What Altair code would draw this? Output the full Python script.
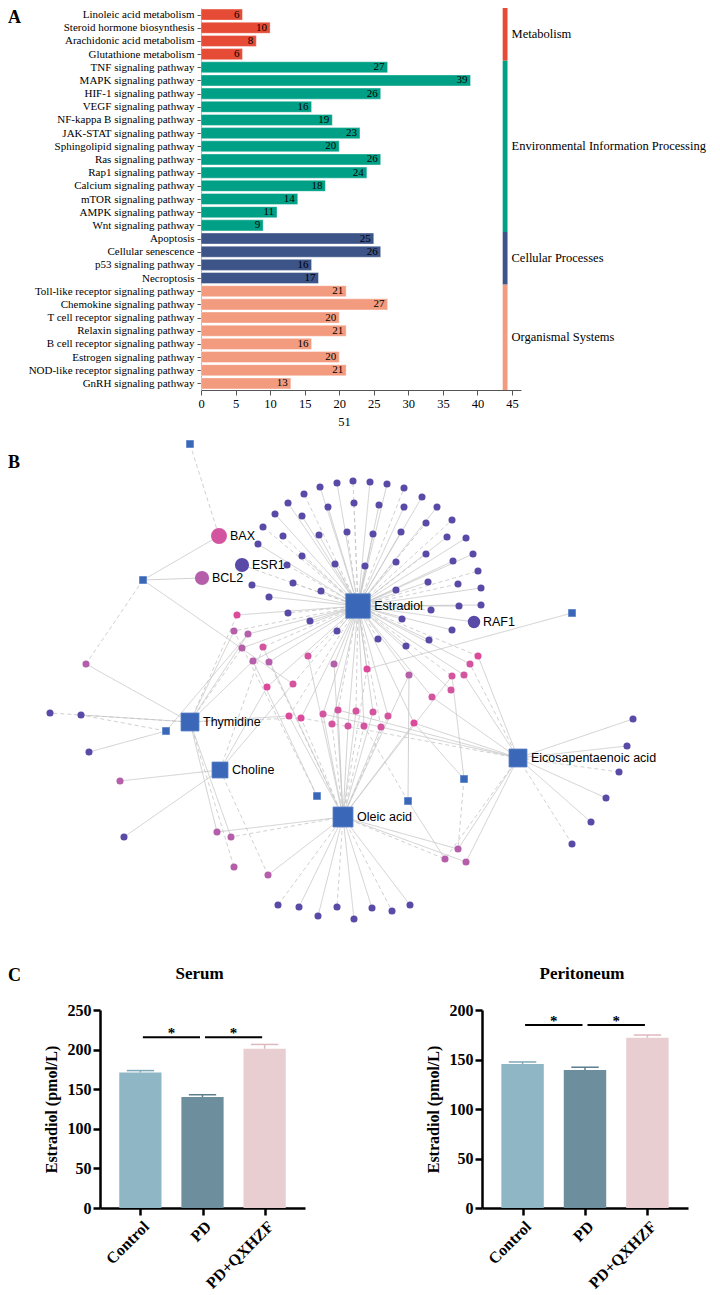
import json
import math
import altair as alt
import pandas as pd

# ---------------- Panel A: KEGG enrichment ----------------
pathways = [
    "Linoleic acid metabolism", "Steroid hormone biosynthesis", "Arachidonic acid metabolism",
    "Glutathione metabolism", "TNF signaling pathway", "MAPK signaling pathway",
    "HIF-1 signaling pathway", "VEGF signaling pathway", "NF-kappa B signaling pathway",
    "JAK-STAT signaling pathway", "Sphingolipid signaling pathway", "Ras signaling pathway",
    "Rap1 signaling pathway", "Calcium signaling pathway", "mTOR signaling pathway",
    "AMPK signaling pathway", "Wnt signaling pathway", "Apoptosis", "Cellular senescence",
    "p53 signaling pathway", "Necroptosis", "Toll-like receptor signaling pathway",
    "Chemokine signaling pathway", "T cell receptor signaling pathway", "Relaxin signaling pathway",
    "B cell receptor signaling pathway", "Estrogen signaling pathway",
    "NOD-like receptor signaling pathway", "GnRH signaling pathway",
]
gene_counts = [6, 10, 8, 6, 27, 39, 26, 16, 19, 23, 20, 26, 24, 18, 14, 11, 9,
               25, 26, 16, 17, 21, 27, 20, 21, 16, 20, 21, 13]
class_names = ["Metabolism", "Environmental Information Processing",
               "Cellular Processes", "Organismal Systems"]
class_sizes = [4, 13, 4, 8]
class_colors = ["#E64B35", "#00A087", "#3C5488", "#F39B7F"]
x_ticks_A = [0, 5, 10, 15, 20, 25, 30, 35, 40, 45]

# ---------------- Panel B: network ----------------
hub_names = ["Estradiol", "Thymidine", "Choline", "Oleic acid", "Eicosapentaenoic acid"]
hub_x = [358, 190, 220, 343, 518]
hub_y = [609, 725, 773, 820, 761]
hub_area = [600, 324, 256, 400, 324]

link_x = [190, 143, 572, 166, 317, 408, 464]
link_y = [447, 583, 616, 734, 799, 804, 782]

key_names = ["BAX", "ESR1", "BCL2", "RAF1"]
key_x = [219, 242, 202, 474]
key_y = [539, 568, 581, 625]
key_shade = ["pink", "purple", "orchid", "purple"]
key_area = [254, 201, 201, 154]

purple_x = [258, 263, 275, 288, 304, 320, 337, 353, 370, 387, 404, 422, 437, 452, 466, 473, 478, 481, 481,
            283, 302, 328, 354, 379, 404, 426, 447, 453, 458, 459,
            319, 347, 373, 401, 426, 428,
            302, 335, 365, 396, 287, 252, 269, 293, 321, 396, 288, 310, 337, 431, 402, 452, 378, 406, 429,
            50, 81, 89, 124,
            278, 299, 318, 337, 354, 372, 392, 410,
            633, 627, 619, 606, 591, 572]
purple_y = [547, 530, 517, 506, 497, 490, 486, 484, 485, 487, 491, 500, 510, 523, 541, 557, 574, 591, 608,
            539, 519, 510, 506, 508, 510, 526, 540, 564, 587, 609,
            538, 535, 537, 535, 557, 585,
            559, 567, 569, 565, 568, 588, 600, 586, 594, 593, 616, 624, 634, 613, 622, 633, 642, 649, 643,
            716, 718, 755, 840,
            908, 910, 919, 910, 922, 911, 914, 908,
            722, 749, 775, 801, 825, 847]

pink_x = [237, 234, 248, 242, 263, 253, 269, 308, 334, 267, 293, 367, 409, 452, 464, 470, 478, 451, 432,
          289, 301, 323, 338, 332, 348, 356, 364, 373, 381, 388, 414,
          217, 231, 234, 268, 458, 445, 466, 120, 86]
pink_y = [618, 634, 637, 651, 650, 664, 665, 659, 667, 690, 687, 672, 678, 679, 678, 667, 659, 693, 700,
          719, 721, 717, 713, 727, 729, 714, 729, 715, 730, 719, 726,
          835, 840, 870, 878, 852, 862, 865, 784, 667]
pink_shade = ["magenta", "orchid", "orchid", "orchid", "pink", "orchid", "orchid", "pink", "orchid",
              "magenta", "pink", "magenta", "orchid", "pink", "pink", "pink", "magenta", "pink", "pink",
              "magenta", "magenta", "pink", "pink", "pink", "pink", "pink", "pink", "pink", "pink", "pink",
              "magenta",
              "orchid", "orchid", "orchid", "orchid", "orchid", "orchid", "orchid", "orchid", "orchid"]

# edges: source -> targets (H = hub, S = linker square, K = key target, P = purple, M = pink)
edge_lists = {
    "H0": ["P%d" % i for i in range(55)] + ["K1", "K3"] + ["M%d" % i for i in range(31)],
    "H3": ["P%d" % i for i in range(59, 67)] + ["M%d" % i for i in range(19, 31)]
          + ["M31", "M32", "M34", "M35", "M36", "M37", "M4", "M6", "M7", "M8", "M11", "M12", "M13"],
    "H1": ["P55", "P56", "M39", "M0", "M1", "M2", "M3", "M5", "M19", "M20", "M31", "M32", "M33"],
    "H2": ["M38", "P58", "M4", "M9", "M10", "M34"],
    "H4": ["P%d" % i for i in range(67, 73)] + ["M30", "M18", "M15", "M16", "M14", "M36", "M35",
                                                  "M37", "M20", "M21", "M22"],
    "S0": ["K0"],
    "S1": ["K0", "K2", "M39", "M10"],
    "S2": ["M11"],
    "S3": ["P56", "P57", "M2"],
    "S4": ["M1", "M5"],
    "S5": ["M12", "M26", "M36"],
    "S6": ["M13", "M35", "M30"],
}

# ---------------- Panel C: estradiol levels ----------------
groups = ["Control", "PD", "PD+QXHZF"]
serum_mean = [171, 140, 201]
serum_err = [2.5, 3, 5.5]
perit_mean = [145.5, 139.5, 172]
perit_err = [2, 2.7, 2.7]
bar_colors = ["#8FB6C5", "#6C8E9D", "#E8CDD1"]
err_colors = ["#7FA8B8", "#5B7D8C", "#DDB8BE"]

SERIF = "Liberation Serif"
SANS = "Liberation Sans"
ORIGIN = 201  # page x of the common plot origin of every row

# ======================= Panel A =======================
cls_per_row = sum([[c] * n for c, n in zip(class_names, class_sizes)], [])
dfA = pd.DataFrame({"pathway": pathways, "count": gene_counts, "cls": cls_per_row,
                    "row": list(range(len(pathways)))})
starts, s = [], 0
for n in class_sizes:
    starts.append(s)
    s += n
dfCls = pd.DataFrame({"cls": class_names, "start": starts,
                      "end": [a + n - 1 for a, n in zip(starts, class_sizes)]})

label_expr = json.dumps(pathways) + "[datum.value]"
y_axis_A = alt.Axis(values=list(range(len(pathways))), labelExpr=label_expr, labelOverlap=False,
                    grid=False, title=None, tickSize=4, tickColor="#555", domainColor="#aaaaaa",
                    labelFont=SERIF, labelFontSize=11, labelColor="black", labelPadding=3)
y_scale_A = alt.Scale(domain=[-0.5, len(pathways) - 0.5], reverse=True, nice=False, zero=False)
x_scale_A = alt.Scale(domain=[0, 46.3], nice=False, zero=False)
x_axis_A = alt.Axis(values=x_ticks_A, grid=False, title="51", titleFont=SERIF, titleFontSize=12.5,
                    titleFontWeight="normal", titleColor="black", titleX=143, titlePadding=6,
                    labelFont=SERIF, labelFontSize=12.5, labelColor="black", labelFlush=False,
                    labelOverlap=False, tickSize=5, tickColor="#555", domainColor="#555")
color_A = alt.Color("cls:N", scale=alt.Scale(domain=class_names, range=class_colors), legend=None)


def YA(field):
    return alt.Y(field, scale=y_scale_A, axis=y_axis_A)


def XA(field):
    return alt.X(field, scale=x_scale_A, axis=x_axis_A)


baseA = alt.Chart(dfA).transform_calculate(y0="datum.row - 0.42", y1="datum.row + 0.42", x0="0")
barsA = baseA.mark_rect(stroke="white", strokeWidth=0.8, strokeOpacity=0.5).encode(
    x=XA("x0:Q"), x2="count:Q", y=YA("y0:Q"), y2="y1:Q", color=color_A)
textA = alt.Chart(dfA).mark_text(align="right", baseline="middle", dx=-3, font=SERIF,
                                 fontSize=11, color="black").encode(
    x=XA("count:Q"), y=YA("row:Q"), text="count:Q")
clsBase = alt.Chart(dfCls).transform_calculate(
    ys="datum.start - 0.5", ye="datum.end + 0.5", mid="(datum.start + datum.end) / 2",
    sx0="43.65", sx1="44.35")
stripA = clsBase.mark_rect().encode(x=XA("sx0:Q"), x2="sx1:Q", y=YA("ys:Q"), y2="ye:Q", color=color_A)
clsTextA = clsBase.mark_text(
    align="left", baseline="middle", dx=4, font=SERIF, fontSize=12.5, color="black").encode(
    x=XA("sx1:Q"), y=YA("mid:Q"), text="cls:N")
letterA = alt.Chart(pd.DataFrame({"t": ["A"]})).mark_text(
    align="left", baseline="middle", font=SERIF, fontSize=18, fontWeight="bold", color="black").encode(
    x=alt.value(8 - ORIGIN), y=alt.value(10), text="t:N")

panelA = alt.layer(barsA, textA, stripA, clsTextA, letterA).properties(width=320, height=382)

# ======================= Panel B =======================
nodes = []
for i, (n, x, y, a) in enumerate(zip(hub_names, hub_x, hub_y, hub_area)):
    nodes.append(dict(id="H%d" % i, x=x, y=y, area=a, kind="square", shade="blue", label=n))
for i, (x, y) in enumerate(zip(link_x, link_y)):
    nodes.append(dict(id="S%d" % i, x=x, y=y, area=49, kind="square", shade="blue", label=""))
for i, (n, x, y, sh, a) in enumerate(zip(key_names, key_x, key_y, key_shade, key_area)):
    nodes.append(dict(id="K%d" % i, x=x, y=y, area=a, kind="circle", shade=sh, label=n))
for i, (x, y) in enumerate(zip(purple_x, purple_y)):
    nodes.append(dict(id="P%d" % i, x=x, y=y, area=50, kind="circle", shade="purple", label=""))
for i, (x, y, sh) in enumerate(zip(pink_x, pink_y, pink_shade)):
    nodes.append(dict(id="M%d" % i, x=x, y=y, area=50, kind="circle", shade=sh, label=""))
dfN = pd.DataFrame(nodes)
pos = {r["id"]: (r["x"], r["y"]) for r in nodes}

edges = []
k = 0
for src, tgts in edge_lists.items():
    for t in tgts:
        (x1, y1), (x2, y2) = pos[src], pos[t]
        edges.append(dict(x=x1, y=y1, x2=x2, y2=y2, style="dashed" if k % 3 == 1 else "solid"))
        k += 1
dfE = pd.DataFrame(edges)

dfN["lx"] = [
    r["x"] + (math.sqrt(r["area"]) / 2 + 4 if r["kind"] == "square" else math.sqrt(r["area"] / math.pi) + 2)
    for r in nodes]

B_TOP, B_BOT = 437, 962
xB = alt.Scale(domain=[ORIGIN, 712], nice=False, zero=False)
yB = alt.Scale(domain=[B_TOP, B_BOT], nice=False, zero=False, reverse=True)

edgesB = alt.Chart(dfE).mark_rule(color="#c4c4c4", strokeWidth=0.8).encode(
    x=alt.X("x:Q", scale=xB, axis=None), y=alt.Y("y:Q", scale=yB, axis=None), x2="x2:Q", y2="y2:Q",
    strokeDash=alt.StrokeDash("style:N", scale=alt.Scale(domain=["solid", "dashed"], range=[[1, 0], [4, 3]]),
                              legend=None))
circlesB = alt.Chart(dfN).transform_filter("datum.kind == 'circle'").mark_circle(opacity=1).encode(
    x=alt.X("x:Q", scale=xB, axis=None), y=alt.Y("y:Q", scale=yB, axis=None),
    size=alt.Size("area:Q", scale=None),
    color=alt.Color("shade:N", scale=alt.Scale(domain=["purple", "pink", "orchid", "magenta"],
                                               range=["#5A4AA8", "#D4559F", "#B55EAA", "#DE4A9B"]),
                    legend=None))
squaresB = alt.Chart(dfN).transform_filter("datum.kind == 'square'").mark_square(
    opacity=1, color="#3A67B7", stroke="#5a84c8", strokeWidth=0.8).encode(
    x=alt.X("x:Q", scale=xB, axis=None), y=alt.Y("y:Q", scale=yB, axis=None),
    size=alt.Size("area:Q", scale=None))
labelsB = alt.Chart(dfN).transform_filter("datum.label != ''").mark_text(
    align="left", baseline="middle", font=SANS, fontSize=12.5, color="black").encode(
    x=alt.X("lx:Q", scale=xB, axis=None), y=alt.Y("y:Q", scale=yB, axis=None), text="label:N")
letterB = alt.Chart(pd.DataFrame({"t": ["B"]})).mark_text(
    align="left", baseline="middle", font=SERIF, fontSize=18, fontWeight="bold", color="black").encode(
    x=alt.value(8 - ORIGIN), y=alt.value(466 - B_TOP), text="t:N")

panelB = alt.layer(edgesB, circlesB, squaresB, labelsB, letterB).properties(
    width=712 - ORIGIN, height=B_BOT - B_TOP)


# ======================= Panel C =======================
def bar_panel(title, means, errs, ymax, sig_y, plot_left=None, plot_width=205, letter=None):
    df = pd.DataFrame({"group": groups, "idx": list(range(len(groups))), "mean": means, "err": errs})
    if plot_left is None:
        xs = alt.Scale(domain=[-0.65, len(groups) - 0.35], nice=False, zero=False)
        yoff = 0
        r0 = 0
    else:
        r0 = plot_left - ORIGIN
        xs = alt.Scale(domain=[-0.65, len(groups) - 0.35], nice=False, zero=False,
                       range=[r0, r0 + plot_width])
        yoff = -r0
    ys = alt.Scale(domain=[0, ymax], nice=False, zero=False)
    xaxis = alt.Axis(values=list(range(len(groups))), labelExpr=json.dumps(groups) + "[datum.value]",
                     labelAngle=-45, labelFont=SERIF, labelFontSize=16, labelFontWeight="bold",
                     labelColor="black", labelFlush=False, labelOverlap=False, labelPadding=3,
                     tickSize=7, tickWidth=2.5,
                     tickColor="black", domainWidth=2.5, domainColor="black", grid=False, title=None)
    yaxis = alt.Axis(values=list(range(0, ymax + 1, 50)), labelFont=SERIF, labelFontSize=16,
                     labelFontWeight="bold", labelColor="black", labelOverlap=False,
                     tickSize=7, tickWidth=2.5,
                     tickColor="black", domainWidth=2.5, domainColor="black", grid=False,
                     title="Estradiol (pmol/L)", titleFont=SERIF, titleFontSize=16,
                     titleFontWeight="bold", titleColor="black", titlePadding=8, offset=yoff)

    def X(f):
        return alt.X(f, scale=xs, axis=xaxis)

    def Y(f):
        return alt.Y(f, scale=ys, axis=yaxis)

    col = alt.Color("group:N", scale=alt.Scale(domain=groups, range=bar_colors), legend=None)
    ecol = alt.Stroke("group:N", scale=alt.Scale(domain=groups, range=err_colors), legend=None)
    base = alt.Chart(df).transform_calculate(
        x0="datum.idx - 0.34", x1="datum.idx + 0.34", zero="0", top="datum.mean + datum.err",
        c0="datum.idx - 0.22", c1="datum.idx + 0.22")
    err_v = base.mark_rule(strokeWidth=1.5).encode(x=X("idx:Q"), y=Y("mean:Q"), y2="top:Q", stroke=ecol)
    bars = base.mark_rect().encode(x=X("x0:Q"), x2="x1:Q", y=Y("zero:Q"), y2="mean:Q", color=col)
    err_c = base.mark_rule(strokeWidth=1.5).encode(x=X("c0:Q"), x2="c1:Q", y=Y("top:Q"), stroke=ecol)

    dfs = pd.DataFrame({"a": [0, 1], "b": [1, 2], "y": [sig_y, sig_y], "s": ["*", "*"]})
    sig = alt.Chart(dfs).transform_calculate(
        xa="datum.a + 0.04", xb="datum.b - 0.04"
    ).mark_rule(color="black", strokeWidth=2).encode(x=X("xa:Q"), x2="xb:Q", y=Y("y:Q"))
    stars = alt.Chart(dfs).transform_calculate(xm="(datum.a + datum.b) / 2").mark_text(
        font=SERIF, fontSize=15, fontWeight="bold", color="black", baseline="middle", dy=-4).encode(
        x=X("xm:Q"), y=Y("y:Q"), text="s:N")
    ttl = alt.Chart(pd.DataFrame({"t": [title]})).mark_text(
        align="center", baseline="middle", font=SERIF, fontSize=17, fontWeight="bold",
        color="black").encode(x=alt.value(r0 + plot_width / 2 - 3), y=alt.value(-36), text="t:N")
    layers = [err_v, bars, err_c, sig, stars, ttl]
    if letter:
        layers.append(alt.Chart(pd.DataFrame({"t": [letter]})).mark_text(
            align="left", baseline="middle", font=SERIF, fontSize=18, fontWeight="bold",
            color="black").encode(x=alt.value(8 - ORIGIN), y=alt.value(-34), text="t:N"))
    return alt.layer(*layers).properties(width=plot_width, height=198)


serum = bar_panel("Serum", serum_mean, serum_err, 250, 215.5, plot_left=100, plot_width=205, letter="C")
perit = bar_panel("Peritoneum", perit_mean, perit_err, 200, 184.8, plot_width=206)
panelC = alt.hconcat(serum, perit, spacing=19)

chart = alt.concat(panelA, panelB, panelC, columns=1, align="none", spacing=6, bounds="full").properties(
    padding=0
).resolve_scale(
    color="independent", size="independent", strokeDash="independent", stroke="independent"
).configure_view(stroke=None).configure_axis(labelColor="black")

chart.save("out.html", embed_options={"renderer": "svg", "actions": False})
